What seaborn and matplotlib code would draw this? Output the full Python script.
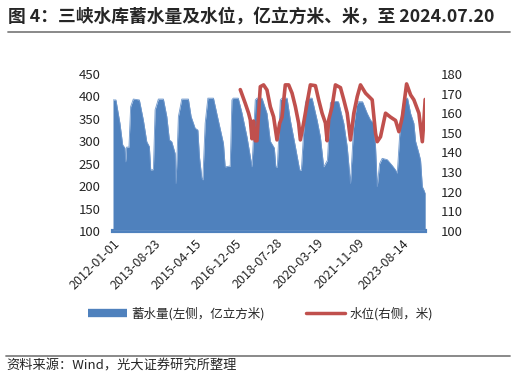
import pandas as pd
import matplotlib.pyplot as plt
import seaborn as sns
from matplotlib.lines import Line2D

# 蓄水量 (亿立方米)
storage_dates = [
    "2012-01-01", "2012-02-13", "2012-04-12", "2012-05-22", "2012-06-24", "2012-07-05", "2012-07-19",
    "2012-08-22", "2012-09-16", "2012-10-25", "2013-01-22", "2013-03-22", "2013-05-11", "2013-06-18",
    "2013-07-08", "2013-08-16", "2013-09-10", "2013-10-28", "2014-01-10", "2014-03-01", "2014-04-08",
    "2014-05-13", "2014-07-01", "2014-07-15", "2014-08-18", "2014-10-07", "2015-01-12", "2015-02-21",
    "2015-04-21", "2015-05-31", "2015-06-23", "2015-07-28", "2015-08-12", "2015-09-15", "2015-10-25",
    "2016-01-15", "2016-03-14", "2016-06-10", "2016-07-05", "2016-09-17", "2016-10-12", "2016-10-31",
    "2017-01-13", "2017-03-09", "2017-05-21", "2017-07-09", "2017-08-03", "2017-09-20", "2017-10-15",
    "2017-12-28", "2018-03-11", "2018-04-29", "2018-06-27", "2018-07-19", "2018-08-10", "2018-09-23",
    "2018-10-18", "2018-12-31", "2019-02-17", "2019-05-02", "2019-07-04", "2019-07-29", "2019-09-26",
    "2019-10-20", "2020-01-02", "2020-03-16", "2020-05-03", "2020-06-21", "2020-08-15", "2020-09-27",
    "2020-10-23", "2021-01-24", "2021-04-12", "2021-06-01", "2021-07-19", "2021-09-02", "2021-10-16",
    "2021-11-14", "2022-01-12", "2022-03-22", "2022-05-10", "2022-06-27", "2022-07-22", "2022-08-16",
    "2022-09-19", "2022-10-28", "2023-01-10", "2023-03-29", "2023-05-12", "2023-06-06", "2023-07-25",
    "2023-09-11", "2023-10-06", "2023-11-04", "2023-12-19", "2024-02-05", "2024-03-01", "2024-04-19",
    "2024-05-13", "2024-06-08", "2024-07-20",
]
storage_values = [
    392, 392, 340, 292, 285, 254, 287,
    287, 377, 394, 392, 347, 299, 288,
    236, 237, 370, 394, 394, 355, 303,
    299, 273, 206, 355, 394, 394, 355,
    329, 325, 266, 218, 214, 340, 396,
    396, 355, 295, 243, 245, 392, 396,
    396, 363, 310, 266, 243, 392, 396,
    396, 362, 300, 285, 243, 243, 392,
    396, 396, 347, 288, 236, 236, 385,
    396, 396, 347, 310, 243, 258, 385,
    390, 388, 340, 288, 206, 330, 380,
    388, 388, 362, 347, 340, 288, 199,
    250, 262, 259, 245, 236, 229, 347,
    392, 396, 396, 362, 340, 300, 273,
    258, 199, 185,
]

# 水位 (米)
level_dates = [
    "2017-02-12", "2017-04-26", "2017-06-14", "2017-07-09", "2017-08-03", "2017-08-26", "2017-09-20",
    "2017-10-15", "2017-11-08", "2017-12-03", "2018-01-20", "2018-03-11", "2018-04-29", "2018-06-16",
    "2018-08-05", "2018-09-13", "2018-10-18", "2018-12-05", "2019-01-23", "2019-03-14", "2019-05-02",
    "2019-06-19", "2019-07-14", "2019-08-31", "2019-10-29", "2019-12-08", "2020-02-20", "2020-04-08",
    "2020-05-28", "2020-07-16", "2020-08-10", "2020-09-02", "2020-10-22", "2020-12-10", "2021-02-22",
    "2021-04-12", "2021-06-01", "2021-07-19", "2021-09-06", "2021-10-26", "2021-12-13", "2022-02-25",
    "2022-06-03", "2022-07-22", "2022-08-16", "2022-10-03", "2022-12-16", "2023-02-27", "2023-05-12",
    "2023-06-30", "2023-08-19", "2023-10-21", "2023-12-19", "2024-02-05", "2024-04-19", "2024-06-08",
    "2024-07-02", "2024-07-20",
]
level_values = [
    172, 165, 160, 156.6, 147, 156, 146,
    146, 160, 173.5, 174.4, 171.8, 163.3, 158.2,
    146.4, 154.9, 158, 174.4, 174.4, 170.2, 163.3,
    154.9, 146.4, 155, 166.8, 174.4, 174, 166.8,
    160, 155, 146, 156.6, 163.3, 174.4, 173,
    166.8, 160, 146.4, 160, 168.4, 174.4, 170.2,
    166.8, 149.8, 145.5, 148, 160, 158, 156.3,
    150.6, 158, 174.9, 169.3, 166.8, 160, 145.5,
    156.6, 167,
]

tick_labels = ["2012-01-01", "2013-08-23", "2015-04-15", "2016-12-05",
               "2018-07-28", "2020-03-19", "2021-11-09", "2023-08-14"]
left_ticks = [100, 150, 200, 250, 300, 350, 400, 450]
right_ticks = [100, 110, 120, 130, 140, 150, 160, 170, 180]

title = "图 4：三峡水库蓄水量及水位，亿立方米、米，至 2024.07.20"
source = "资料来源：Wind，光大证券研究所整理"
storage_name = "蓄水量(左侧，亿立方米)"
level_name = "水位(右侧，米)"

storage = pd.DataFrame({"date": pd.to_datetime(storage_dates), "value": storage_values})
level = pd.DataFrame({"date": pd.to_datetime(level_dates), "value": level_values})

sns.set_theme(style="white")
plt.rcParams["font.family"] = ["Noto Sans CJK SC", "DejaVu Sans"]

blue = "#4F81BD"
red = "#C0504D"

fig = plt.figure(figsize=(5.16, 3.77), dpi=100)
ax = fig.add_axes([0.219, 0.387, 0.605, 0.417])

# area for storage
ax.fill_between(storage["date"], storage["value"], 100, color=blue, linewidth=0)
sns.lineplot(data=storage, x="date", y="value", ax=ax, color="#6f98cc", linewidth=0.6)
ax.axhline(100, color="#c9d8ec", linewidth=0.9, zorder=5)

ax.set_ylim(100, 450)
ax.set_yticks(left_ticks)
ax.set_xlim(pd.Timestamp("2012-01-01"), pd.Timestamp("2024-07-20"))
ax.set_xticks(pd.to_datetime(tick_labels))
ax.set_xticklabels(tick_labels, rotation=45, ha="right", rotation_mode="anchor")
ax.set_xlabel("")
ax.set_ylabel("")
for side in ["top", "left", "right"]:
    ax.spines[side].set_visible(False)
ax.spines["bottom"].set_color(blue)
ax.spines["bottom"].set_linewidth(3)
ax.tick_params(axis="y", labelsize=9.5, pad=9, length=0)
ax.tick_params(axis="x", labelsize=9, pad=4, length=0)

ax2 = ax.twinx()
sns.lineplot(data=level, x="date", y="value", ax=ax2, color=red, linewidth=2.6)
ax2.set_ylim(100, 180)
ax2.set_yticks(right_ticks)
ax2.set_ylabel("")
for side in ["top", "left", "right", "bottom"]:
    ax2.spines[side].set_visible(False)
ax2.tick_params(axis="y", labelsize=9.5, pad=11, length=0)

# legend
handles = [Line2D([], [], color=blue, linewidth=6, solid_capstyle="butt"),
           Line2D([], [], color=red, linewidth=2.5)]
fig.legend(handles, [storage_name, level_name], loc="center", bbox_to_anchor=(0.505, 0.168),
           ncol=2, frameon=False, fontsize=9, handlelength=3.1, columnspacing=3.3, handletextpad=0.35)

# title, rules and source
fig.text(0.016, 0.955, title, fontsize=12.8, fontweight="bold", va="center", ha="left")
fig.add_artist(Line2D([0.016, 0.988], [0.915, 0.915], color="#808080", linewidth=1.3))
fig.add_artist(Line2D([0.012, 0.988], [0.056, 0.056], color="#808080", linewidth=1.3))
fig.text(0.012, 0.029, source, fontsize=9.5, va="center", ha="left")

fig.savefig("out.png", dpi=100)
